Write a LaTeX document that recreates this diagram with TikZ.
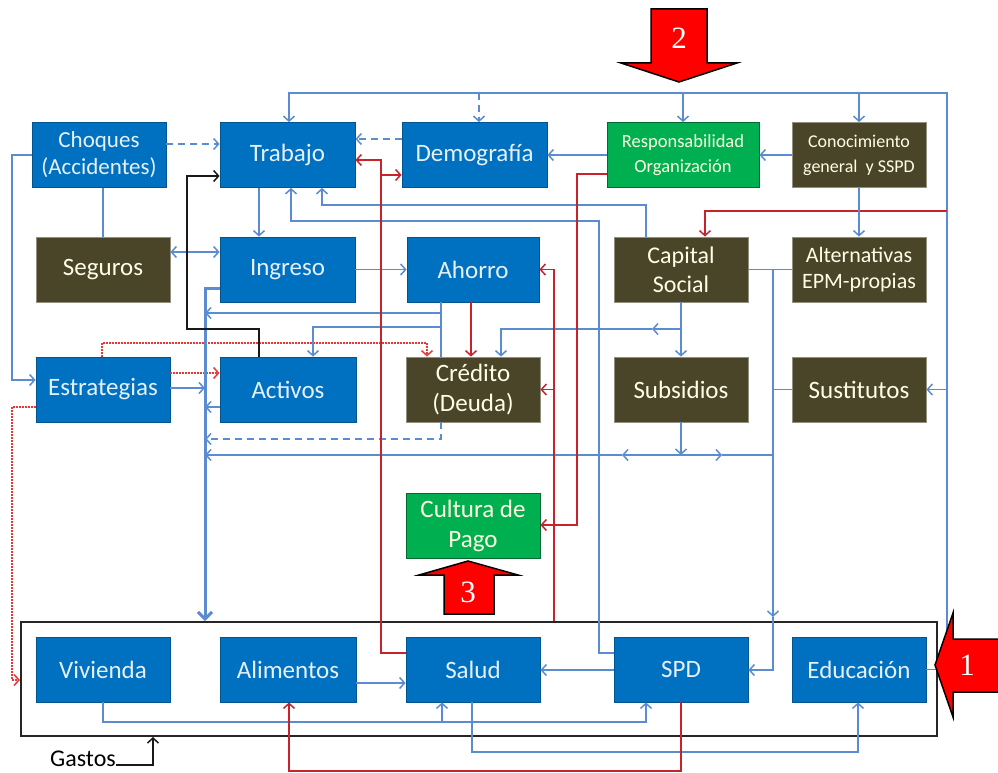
\documentclass[tikz,border=0pt]{standalone}
\usepackage{fontspec}
\setmainfont{Carlito}
\newfontfamily\numfont{Liberation Serif}
\usetikzlibrary{arrows.meta}
\definecolor{boxblue}{HTML}{0070C0}
\definecolor{boxbrown}{HTML}{4A4429}
\definecolor{boxgreen}{HTML}{00B050}
\definecolor{linkblue}{HTML}{5B8BD0}
\definecolor{linkred}{HTML}{C8232A}
\definecolor{dotred}{HTML}{E23A3A}
\definecolor{arrowred}{HTML}{FF0000}
\tikzset{
  base/.style={minimum height=65, inner sep=0, align=center, line width=0.8},
  bluebox/.style={base, fill=boxblue, draw=boxblue!75!black, text=white!90!boxblue,
    font=\fontsize{25}{29}\selectfont},
  brownbox/.style={base, fill=boxbrown, draw=boxbrown!60!white, text=white!90!yellow,
    font=\fontsize{25}{29}\selectfont},
  greenbox/.style={base, fill=boxgreen, draw=boxgreen!60!black, text=white!88!yellow,
    font=\fontsize{25}{30}\selectfont},
  tip/.style={-{Straight Barb[length=5pt,width=11pt]}},
  lb/.style={draw=linkblue, line width=1.5},
  lbdash/.style={lb, dash pattern=on 7pt off 5pt},
  lbthick/.style={draw=linkblue, line width=3},
  lr/.style={draw=linkred, line width=1.5},
  dr/.style={draw=dotred, line width=1.5, dash pattern=on 1.5pt off 1.5pt},
  blk/.style={draw=black!90, line width=1.5},
  bigarrow/.style={fill=arrowred, draw=black, line width=1.5, line join=miter},
  numlabel/.style={text=white, font=\numfont\fontsize{31}{31}\selectfont, inner sep=0},
}
\begin{document}
\begin{tikzpicture}[x=1pt,y=-1pt]
\useasboundingbox (0,0) rectangle (998,773);

% expenditure frame
\node[draw=black!85, line width=2, minimum width=916, minimum height=114, inner sep=0] (gbox) at (479,679) {};

% row 1
\node[bluebox, minimum width=134, font=\fontsize{23}{27}\selectfont] (choq) at (99,155) {Choques\\(Accidentes)};
\node[bluebox, minimum width=135] (trab) at (287.5,155) {Trabajo};
\node[bluebox, minimum width=145] (demo) at (474.5,155) {Demografía};
\node[greenbox, minimum width=152, font=\fontsize{18.5}{25}\selectfont] (resp) at (683,155) {Responsabilidad\\Organización};
\node[brownbox, minimum width=134, font=\fontsize{18}{25}\selectfont] (cono) at (859,155) {Conocimiento\\general~ y SSPD};
% row 2
\node[brownbox, minimum width=134] (segu) at (103,269.5) {Seguros};
\node[bluebox, minimum width=135] (ingr) at (287.5,269.5) {Ingreso};
\node[bluebox, minimum width=132] (ahor) at (473,269.5) {Ahorro};
\node[brownbox, minimum width=134, font=\fontsize{24}{29}\selectfont] (capi) at (681,269.5) {Capital\\Social};
\node[brownbox, minimum width=134, font=\fontsize{22}{26}\selectfont] (alte) at (859,269.5) {Alternativas\\EPM-propias};
% row 3
\node[bluebox, minimum width=134] (estr) at (103,389.5) {Estrategias};
\node[bluebox, minimum width=136] (acti) at (288,389.5) {Activos};
\node[brownbox, minimum width=134, font=\fontsize{25}{30}\selectfont] (cred) at (473,389.5) {Crédito\\(Deuda)};
\node[brownbox, minimum width=134] (subs) at (681,389.5) {Subsidios};
\node[brownbox, minimum width=134] (sust) at (859,389.5) {Sustitutos};
% payment culture
\node[greenbox, minimum width=134] (cult) at (473,525.5) {Cultura de\\Pago};
% expenditure items
\node[bluebox, minimum width=134] (vivi) at (103,669.5) {Vivienda};
\node[bluebox, minimum width=136] (alim) at (288,669.5) {Alimentos};
\node[bluebox, minimum width=134] (salu) at (473,669.5) {Salud};
\node[bluebox, minimum width=134] (spd) at (681,669.5) {SPD};
\node[bluebox, minimum width=134] (educ) at (859,669.5) {Educación};

\node[font=\fontsize{24}{28}\selectfont, inner sep=0] (gast) at (83,759) {Gastos};

% bus coordinates
\coordinate (busL) at (205,0);
\coordinate (rc) at (947,93);
\coordinate (lc) at (289,93);

% feedback bus from Educación along the top
\draw[lb, tip] (educ.east) -| (rc) -- (lc) -- (trab.north -| lc);
\draw[lbdash, tip] (479,93) -- (demo.north -| 479,0);
\draw[lb, tip] (resp.north |- rc) -- (resp.north);
\draw[lb, tip] (cono.north |- rc) -- (cono.north);
\draw[lb, tip] (sust.east -| rc) -- (sust.east);
\draw[lr, tip] (947,211) -| ([xshift=24]capi.north);

% row 1 links
\draw[lbdash, tip] (choq.east |- 0,144) -- (trab.west |- 0,144);
\draw[lbdash, tip] (demo.west |- 0,139) -- (trab.east |- 0,139);
\draw[lb, tip] (resp.west) -- (demo.east);
\draw[lb, tip] (cono.west) -- (resp.east);
\draw[lb, tip] (cono.south) -- (alte.north);
\draw[lb, tip] (trab.south -| 259,0) -- (ingr.north -| 259,0);
\draw[lb, tip] (capi.north -| 646,0) |- (322,205) -- (trab.south -| 322,0);
\draw[lb, tip] (spd.west |- 0,653) -| (599,221) -| (trab.south -| 291,0);

% left column
\draw[lb, {Straight Barb[length=5pt,width=11pt]}-{Straight Barb[length=5pt,width=11pt]}] (segu.east |- 0,252) -- (ingr.west |- 0,252);
\draw[lb] (choq.south -| segu.north) -- (segu.north);
\draw[lb, tip] (choq.west) -| (12,380) -- (estr.west |- 0,380);
\draw[dr, tip] (estr.east |- 0,373) -- (acti.west |- 0,373);
\draw[dr, tip] (estr.north -| 102,0) |- (427,343) -- (cred.north -| 427,0);
\draw[dr, tip] (estr.west |- 0,407) -| (12,680) -- (gbox.west |- 0,680);

% thick collector towards expenditures
\draw[lbthick, -{Straight Barb[length=7pt,width=14pt]}] (ingr.west |- 0,288) -| (gbox.north -| busL);
\draw[lb, tip] (estr.east |- 0,388) -- (busL |- 0,388);
\draw[lb] (ahor.south -| 441,0) -- (cred.north -| 441,0);
\draw[lb, tip] (441,313) -- (busL |- 0,313);
\draw[lb, tip] (441,327) -| (acti.north -| 313,0);
\draw[lb, tip] (acti.west |- 0,407) -- (busL |- 0,407);
\draw[lbdash, tip] (cred.south -| 441,0) |- (busL |- 0,439);

% subsidies line
\draw[lb, tip] (subs.south) -- (681,455);
\draw[lb, tip] (681,455) -- (622,455);
\draw[lb, tip] (622,455) -- (busL |- 0,455);
\draw[lb, tip] (681,455) -- (722,455);
\draw[lb] (722,455) -- (773,455);

% row 2 / capital social
\draw[lb, tip] (ingr.east) -- (ahor.west);
\draw[lb, tip] (capi.south) -- (subs.north);
\draw[lb, tip] (681,329) -- (652,329);
\draw[lb, tip] (652,329) -| (cred.north -| 501,0);
\draw[lb] (capi.east) -- (alte.west);
\draw[lb, tip] (773,269.5) -- (773,617);
\draw[lb, tip] (773,617) |- (spd.east |- 0,670);
\draw[lb] (773,389.5) -- (sust.west);

% inside the expenditure frame
\draw[lb, tip] (alim.east |- 0,683) -- (salu.west |- 0,683);
\draw[lb, tip] (spd.west |- 0,670) -- (salu.east |- 0,670);
\draw[lb, tip] (vivi.south) |- (646,722) -- (spd.south -| 646,0);
\draw[lb, tip] (442,722) -- (salu.south -| 442,0);
\draw[lb, tip] (salu.south -| 472,0) |- (858,752) -- (educ.south -| 858,0);

% red links
\draw[lr, tip] (salu.west |- 0,653) -| (381,160) -- (trab.east |- 0,160);
\draw[lr, tip] (381,175) -- (demo.west |- 0,175);
\draw[lr, tip] (resp.west |- 0,174) -| (577,525) -- (cult.east |- 0,525);
\draw[lr, tip] (gbox.north -| 554,0) |- (ahor.east);
\draw[lr, tip] (554,389.5) -- (cred.east);
\draw[lr, tip] (ahor.south -| 471,0) -- (cred.north -| 471,0);
\draw[lr, tip] (spd.south) |- (289,771) -- (alim.south -| 289,0);

% black links
\draw[blk, tip] (acti.north -| 259,0) |- (187,329) |- (trab.west |- 0,176);
\draw[blk, tip] (gast.east |- 0,765) -| (gbox.south -| 153,0);

% numbered block arrows
\draw[bigarrow] (1002,639) -- (953,639) -- (953,613) -- (935,665) -- (953,717) -- (953,692) -- (1002,692);
\node[numlabel] (n1) at (967,665) {1};
\draw[bigarrow] (651,9) -- (651,63) -- (621,63) -- (679,82) -- (737,63) -- (707,63) -- (707,9) -- cycle;
\node[numlabel] (n2) at (679,38) {2};
\draw[bigarrow] (444,614) -- (444,575) -- (419,575) -- (468,561) -- (518,575) -- (494,575) -- (494,614) -- cycle;
\node[numlabel] (n3) at (468,592) {3};
\end{tikzpicture}
\end{document}
